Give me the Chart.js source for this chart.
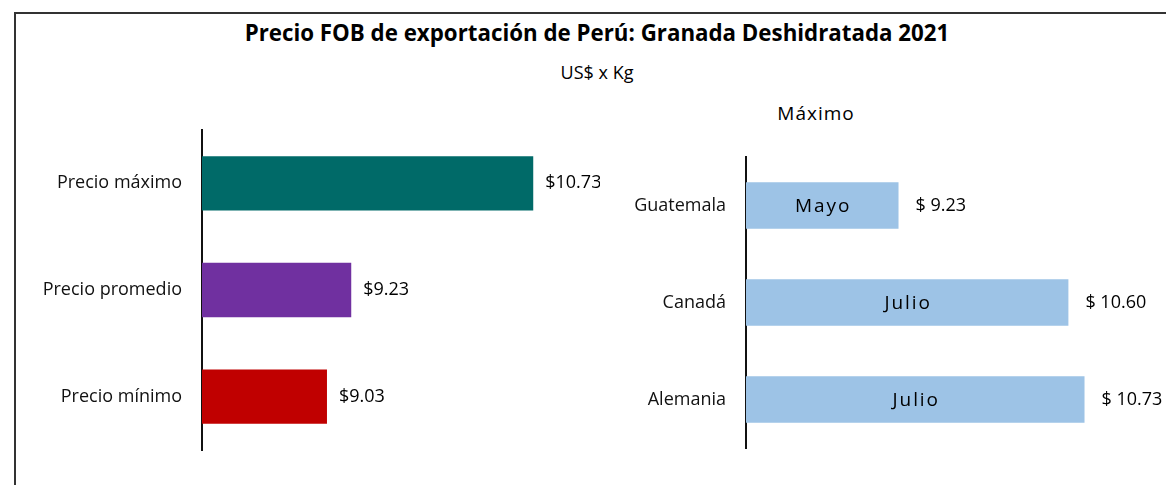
<!DOCTYPE html>
<html>
<head>
<meta charset="utf-8">
<script src="https://cdn.jsdelivr.net/npm/chart.js@4.4.1/dist/chart.umd.min.js"></script>
<style>
  body { margin: 0; background: #fff; width: 1166px; height: 485px; overflow: hidden; position: relative; font-family: "Open Sans", sans-serif; }
  #frame { position: absolute; left: 14px; top: 12px; width: 1200px; height: 600px; border-left: 2px solid #333; border-top: 2px solid #333; }
  .txt { position: absolute; white-space: nowrap; color: #000; transform: translateX(-50%); }
  #title { left: 597px; top: 17px; font-size: 22.3px; font-weight: bold; }
  #subtitle { left: 597px; top: 60px; font-size: 18px; }
  #rtitle { left: 816px; top: 100px; font-size: 19px; letter-spacing: 1px; }
  canvas { position: absolute; }
</style>
</head>
<body>
<div id="frame"></div>
<div class="txt" id="title">Precio FOB de exportación de Perú: Granada Deshidratada 2021</div>
<div class="txt" id="subtitle">US$ x Kg</div>
<div class="txt" id="rtitle">Máximo</div>
<canvas id="left" width="580" height="400" style="left:20px;top:90px;width:580px;height:400px"></canvas>
<canvas id="right" width="566" height="371" style="left:600px;top:117px;width:566px;height:371px"></canvas>
<script>
// precio FOB - resumen
var priceLabels = ['Precio máximo', 'Precio promedio', 'Precio mínimo'];
var priceValues = [10.73, 9.23, 9.03];
var priceColors = ['#006A68', '#7030A0', '#C00000'];

// maximo por pais
var countryLabels = ['Guatemala', 'Canadá', 'Alemania'];
var countryValues = [9.23, 10.60, 10.73];
var countryMonths = ['Mayo', 'Julio', 'Julio'];

var axisMin = 8;
var axisMax = 11;

var FONT = '"Open Sans", sans-serif';
Chart.defaults.font.family = FONT;
Chart.defaults.color = '#111';

// etiquetas de valor a la derecha de cada barra, y el mes dentro si hay
function barLabels(prefix, gap, months) {
	return {
		id: 'barLabels',
		afterDatasetsDraw: function(chart) {
			var ctx = chart.ctx;
			var values = chart.data.datasets[0].data;
			var meta = chart.getDatasetMeta(0);
			ctx.save();
			ctx.textBaseline = 'middle';
			ctx.fillStyle = '#000';
			meta.data.forEach(function(bar, i) {
				ctx.font = '18px ' + FONT;
				ctx.textAlign = 'left';
				ctx.fillText(prefix + values[i].toFixed(2), bar.x + gap, bar.y);
				if (months) {
					var left = chart.chartArea.left;
					ctx.font = '19px ' + FONT;
					ctx.textAlign = 'center';
					ctx.fillText(months[i].split('').join(String.fromCharCode(8202)), (bar.x + left) / 2, bar.y + 1);
				}
			});
			ctx.restore();
		}
	};
}

function makeChart(id, labels, values, colors, yWidth, rightPad, barPct, labelPlugin) {
	return new Chart(document.getElementById(id), {
		type: 'bar',
		data: {
			labels: labels,
			datasets: [{
				data: values,
				backgroundColor: colors,
				barPercentage: barPct,
				categoryPercentage: 1
			}]
		},
		options: {
			indexAxis: 'y',
			responsive: false,
			animation: false,
			layout: { padding: { top: 40, bottom: 40, left: 0, right: rightPad } },
			plugins: {
				legend: { display: false },
				tooltip: { enabled: false }
			},
			scales: {
				x: { display: false, min: axisMin, max: axisMax },
				y: {
					grid: { display: false, drawTicks: false },
					border: { display: true, color: '#111', width: 2 },
					ticks: { font: { size: 18 }, color: '#111', padding: 20 },
					afterFit: function(scale) { scale.width = yWidth; }
				}
			}
		},
		plugins: [labelPlugin]
	});
}

makeChart('left', priceLabels, priceValues, priceColors, 182, 34, 0.51,
	barLabels('$', 12, null));

makeChart('right', countryLabels, countryValues, '#9DC3E6', 146, 48, 0.48,
	barLabels('$ ', 17, countryMonths));
</script>
</body>
</html>
